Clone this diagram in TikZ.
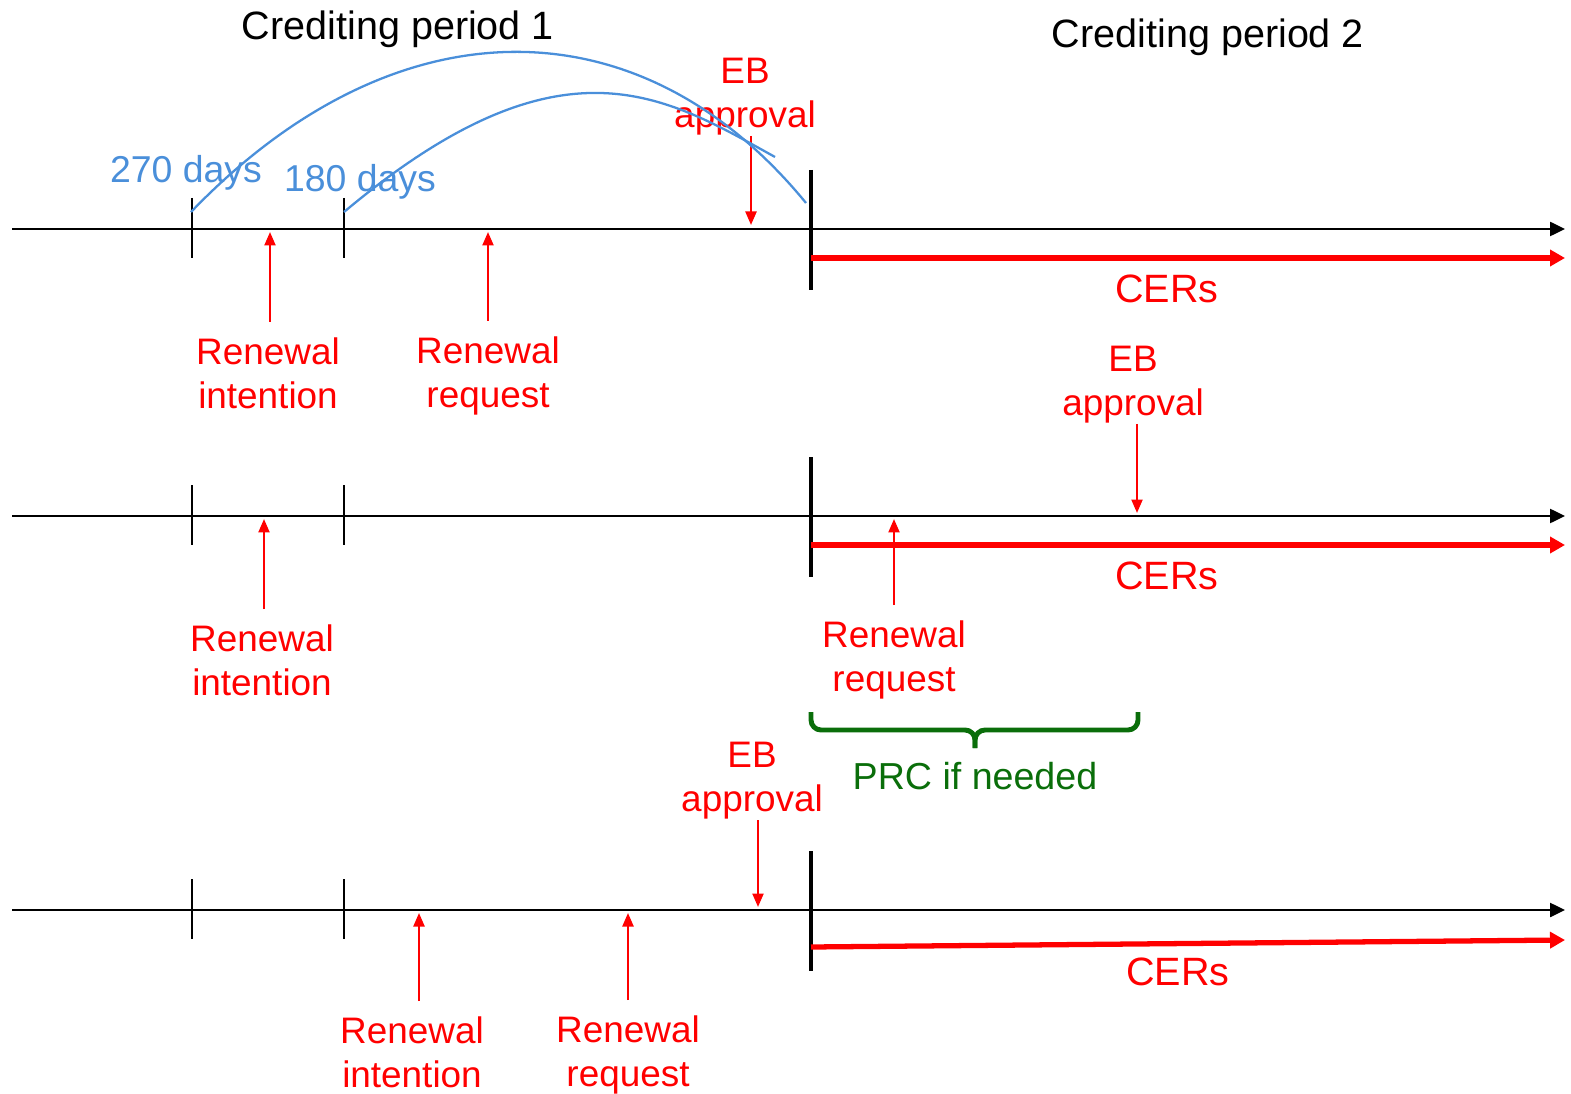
\documentclass[tikz,border=0pt]{standalone}
\usepackage{fontspec}
\setmainfont{Liberation Sans}
\usetikzlibrary{positioning,arrows.meta}
\definecolor{evred}{HTML}{FF0000}
\definecolor{dayblue}{HTML}{4A8FDA}
\definecolor{prcgreen}{HTML}{0A6E0A}
\tikzset{
  tline/.style={draw=black, line width=1.4pt, -{Triangle[length=0.3cm,width=0.28cm]}},
  cer/.style={draw=evred, line width=3pt, -{Triangle[length=0.3cm,width=0.32cm]}},
  tickmark/.style={draw=black, line width=1.3pt},
  cpbar/.style={draw=black, line width=2.8pt},
  ev/.style={draw=evred, line width=1.3pt, -{Triangle[length=0.27cm,width=0.22cm]}},
  lbl/.style={text=evred, align=center, font=\fontsize{21}{25.5}\selectfont, inner sep=0pt},
  below lbl/.style={lbl, anchor=north, inner ysep=0.3cm},
  above lbl/.style={lbl, anchor=south},
  cers/.style={lbl, font=\fontsize{22.5}{26}\selectfont},
  hdr/.style={font=\fontsize{22.5}{26}\selectfont, inner sep=0pt},
  window/.style={draw=dayblue, line width=1.3pt},
  days/.style={text=dayblue, font=\fontsize{21.3}{25}\selectfont, inner sep=0pt},
  prc/.style={draw=prcgreen, line width=2.8pt, rounded corners=0.2cm},
}
\begin{document}
\begin{tikzpicture}[x=0.02cm, y=-0.02cm]
  \useasboundingbox (0,0) rectangle (1571,1094);
  % timelines
  \foreach \r/\y in {1/229,2/516,3/910}{
    \coordinate (s\r) at (12,\y);
    \coordinate (e\r) at (1565,\y);
    \draw[tline] (s\r) -- (e\r);
    \draw[tickmark] (192,\y-31) -- (192,\y+29);
    \draw[tickmark] (344,\y-31) -- (344,\y+29);
    \draw[cpbar] (811,\y-59) -- (811,\y+61);
  }
  \draw[cer] (811,258) -- (1565,258);
  \draw[cer] (811,545) -- (1565,545);
  \draw[cer] (811,947) -- (1565,940);
  % headers
  \node[hdr] (cp1) at (398,29) {Crediting period 1};
  \node[hdr] (cp2) at (1208,37) {Crediting period 2};
  % row 1
  \node[below lbl] (ri1) at (268,322) {Renewal\\intention};
  \node[below lbl] (rr1) at (488,321) {Renewal\\request};
  \node[above lbl] (eb1) at (745,136) {EB\\approval};
  \node[cers] (c1) at (1167,289) {CERs};
  \coordinate (u1i) at (270,232);
  \coordinate (u1r) at (488,232);
  \coordinate (d1) at (751,225);
  \draw[ev] (ri1.north -| u1i) -- (u1i);
  \draw[ev] (rr1.north -| u1r) -- (u1r);
  \draw[ev] (eb1.south -| d1) -- (d1);
  % row 2
  \node[below lbl] (ri2) at (262,609) {Renewal\\intention};
  \node[below lbl] (rr2) at (894,605) {Renewal\\request};
  \node[above lbl] (eb2) at (1133,424) {EB\\approval};
  \node[cers] (c2) at (1167,576) {CERs};
  \coordinate (u2i) at (264,519);
  \coordinate (u2r) at (894,519);
  \coordinate (d2) at (1137,513);
  \draw[ev] (ri2.north -| u2i) -- (u2i);
  \draw[ev] (rr2.north -| u2r) -- (u2r);
  \draw[ev] (eb2.south -| d2) -- (d2);
  % PRC brace
  \draw[prc] (811,712) -- (811,730) -- (975,730) -- (975,748);
  \draw[prc] (1138,712) -- (1138,730) -- (975,730) -- (975,748);
  \node[lbl, text=prcgreen, font=\fontsize{21.4}{25.5}\selectfont] (prc) at (975,776) {PRC if needed};
  % row 3
  \node[below lbl] (ri3) at (412,1001) {Renewal\\intention};
  \node[below lbl] (rr3) at (628,1000) {Renewal\\request};
  \node[above lbl] (eb3) at (752,820) {EB\\approval};
  \node[cers] (c3) at (1178,972) {CERs};
  \coordinate (u3i) at (419,913);
  \coordinate (u3r) at (628,913);
  \coordinate (d3) at (758,907);
  \draw[ev] (ri3.north -| u3i) -- (u3i);
  \draw[ev] (rr3.north -| u3r) -- (u3r);
  \draw[ev] (eb3.south -| d3) -- (d3);
  % submission windows
  \node[days] (n270) at (186,173) {270 days};
  \node[days] (n180) at (360,182) {180 days};
  \coordinate (w270) at (191,212);
  \coordinate (w180) at (344,212);
  \draw[window] (w270) .. controls (395,0) and (640,0) .. (806,203);
  \draw[window] (w180) .. controls (562,29) and (665,96) .. (775,157);
\end{tikzpicture}
\end{document}
